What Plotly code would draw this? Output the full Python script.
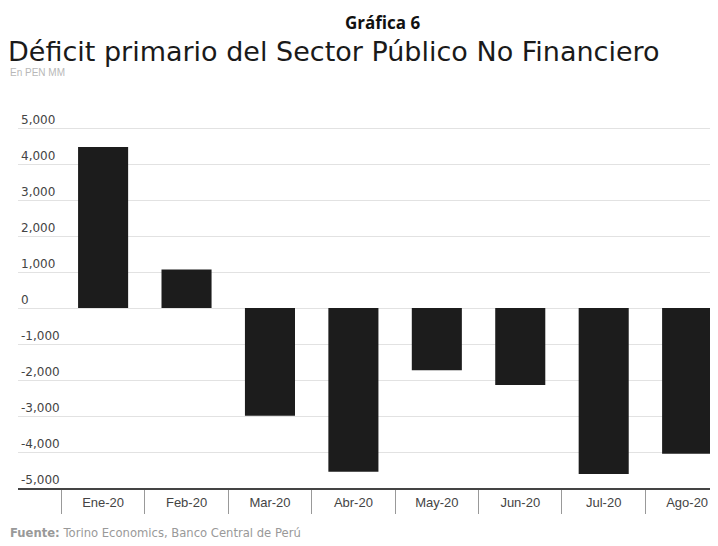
import plotly.graph_objects as go

meses = ["Ene-20", "Feb-20", "Mar-20", "Abr-20", "May-20", "Jun-20", "Jul-20", "Ago-20"]
deficit = [4470, 1070, -2990, -4550, -1730, -2140, -4610, -4050]
y_ticks = [5000, 4000, 3000, 2000, 1000, 0, -1000, -2000, -3000, -4000, -5000]
y_labels = ["5,000", "4,000", "3,000", "2,000", "1,000", "0",
            "-1,000", "-2,000", "-3,000", "-4,000", "-5,000"]

# the page body has an 8px margin, so the figure is drawn 8px in and down
PLOT_W, PLOT_H = 700, 378

fig = go.Figure(go.Bar(
    x=meses,
    y=deficit,
    marker_color="#1c1c1c",
    marker_line_width=0,
    width=0.6,
))

fig.update_layout(
    width=710,
    height=538,
    plot_bgcolor="white",
    paper_bgcolor="white",
    showlegend=False,
    font=dict(family="Liberation Sans, Arial, sans-serif", size=12, color="#333"),
    margin=dict(l=10, r=0, t=102, b=58),
    title=dict(
        text="Déficit primario del Sector Público No Financiero",
        font=dict(family="DejaVu Sans", size=27, color="#1a1a1a"),
        xref="container", x=0, xanchor="left",
        yref="container", y=1 - 44 / 538, yanchor="middle",
    ),
    xaxis=dict(
        type="category",
        range=[-1.02, 7.37],
        tickson="boundaries",
        ticks="outside",
        ticklen=24,
        tickwidth=1,
        tickcolor="#999",
        ticklabelstandoff=1,
        showgrid=False,
        showline=True,
        linecolor="#444",
        linewidth=2,
        tickfont=dict(size=13, color="#444"),
    ),
    yaxis=dict(
        range=[-5000, 5500],
        tickvals=y_ticks,
        ticktext=y_labels,
        ticklabelposition="inside top",
        showgrid=True,
        gridcolor="#e2e2e2",
        zeroline=False,
        tickfont=dict(family="DejaVu Sans", size=12, color="#444"),
    ),
    annotations=[
        dict(text="<b>Gráfica 6</b>", xref="paper", yref="paper",
             x=364 / PLOT_W, y=1 + 87 / PLOT_H, showarrow=False,
             xanchor="center", yanchor="middle",
             font=dict(family="Open Sans", size=17, color="#111")),
        dict(text="En PEN MM", xref="paper", yref="paper",
             x=-10 / PLOT_W, y=1 + 38 / PLOT_H, showarrow=False,
             xanchor="left", yanchor="middle",
             font=dict(family="Liberation Sans", size=10, color="#b8b8b8")),
        dict(text="<b>Fuente:</b> Torino Economics, Banco Central de Perú",
             xref="paper", yref="paper",
             x=-10 / PLOT_W, y=-45 / PLOT_H, showarrow=False,
             xanchor="left", yanchor="middle",
             font=dict(family="DejaVu Sans", size=11.6, color="#999")),
    ],
)

fig.write_html("out.html")
